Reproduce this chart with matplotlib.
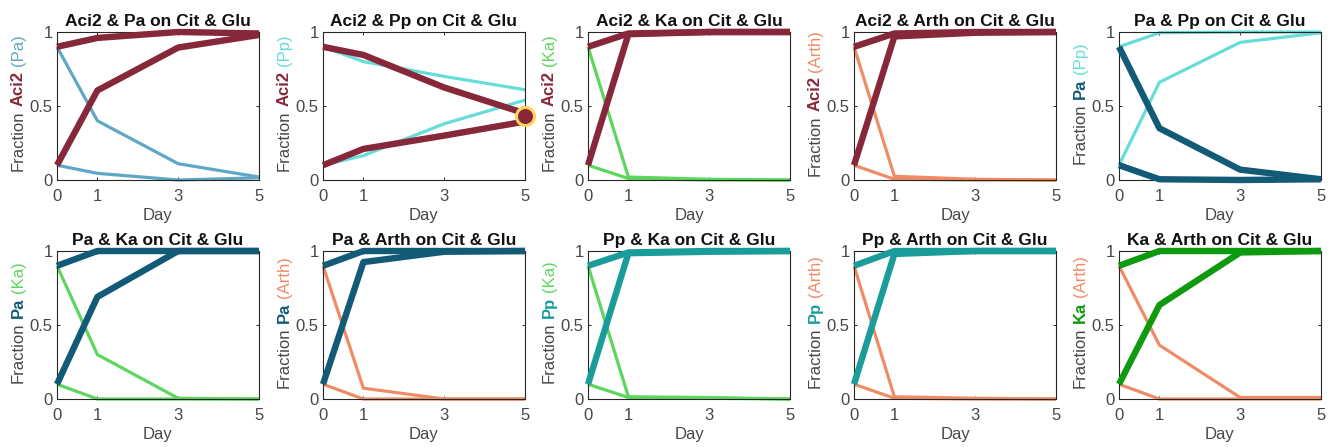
import matplotlib
matplotlib.use("Agg")
import matplotlib.pyplot as plt

# ---------------- data ----------------
days = [0, 1, 3, 5]
first_species = ["Aci2", "Aci2", "Aci2", "Aci2", "Pa", "Pa", "Pa", "Pp", "Pp", "Ka"]
second_species = ["Pa", "Pp", "Ka", "Arth", "Pp", "Ka", "Arth", "Ka", "Arth", "Arth"]
medium = "Cit & Glu"

# thick line: fraction of first species, starting at 0.9
first_from_high = [
    [0.90, 0.96, 1.00, 0.99],
    [0.90, 0.845, 0.625, 0.45],
    [0.90, 0.99, 1.00, 1.00],
    [0.90, 0.99, 1.00, 1.00],
    [0.90, 0.35, 0.07, 0.005],
    [0.90, 1.00, 1.00, 1.00],
    [0.90, 1.00, 1.00, 1.00],
    [0.90, 0.99, 1.00, 1.00],
    [0.90, 1.00, 1.00, 1.00],
    [0.90, 1.00, 1.00, 1.00],
]
# thick line: fraction of first species, starting at 0.1
first_from_low = [
    [0.10, 0.605, 0.895, 0.98],
    [0.10, 0.21, 0.30, 0.395],
    [0.10, 0.985, 1.00, 1.00],
    [0.10, 0.97, 0.995, 1.00],
    [0.10, 0.005, 0.00, 0.005],
    [0.10, 0.69, 1.00, 1.00],
    [0.10, 0.925, 0.995, 1.00],
    [0.10, 0.985, 0.995, 1.00],
    [0.10, 0.98, 1.00, 1.00],
    [0.10, 0.635, 0.99, 1.00],
]
# thin line: fraction of second species, starting at 0.9
second_from_high = [
    [0.90, 0.40, 0.11, 0.02],
    [0.90, 0.80, 0.70, 0.61],
    [0.90, 0.02, 0.005, 0.00],
    [0.90, 0.025, 0.005, 0.00],
    [0.90, 0.995, 1.00, 1.00],
    [0.90, 0.30, 0.005, 0.00],
    [0.90, 0.073, 0.00, 0.00],
    [0.90, 0.015, 0.01, 0.00],
    [0.90, 0.015, 0.005, 0.00],
    [0.90, 0.364, 0.01, 0.01],
]
# thin line: fraction of second species, starting at 0.1
second_from_low = [
    [0.10, 0.045, 0.00, 0.015],
    [0.10, 0.165, 0.38, 0.54],
    [0.10, 0.01, 0.00, 0.00],
    [0.10, 0.005, 0.00, 0.00],
    [0.10, 0.66, 0.93, 0.995],
    [0.10, 0.00, 0.00, 0.00],
    [0.10, 0.00, 0.00, 0.00],
    [0.10, 0.01, 0.005, 0.00],
    [0.10, 0.005, 0.00, 0.00],
    [0.10, 0.00, 0.00, 0.00],
]
highlight_panel = 1
highlight_point = (5, 0.433)

x_ticks = [0, 1, 3, 5]
y_ticks = [0, 0.5, 1]
y_ticklabels = ["0", "0.5", "1"]

# ---------------- style ----------------
dark = {"Aci2": "#86283A", "Pa": "#135A76", "Pp": "#1A9C9A", "Ka": "#0E9A0E"}
light = {"Pa": "#5EA8C6", "Pp": "#66DDD9", "Ka": "#5CD65C", "Arth": "#EE8C66"}
FONT = "Liberation Sans"
FS = 12
TXT = "#474747"
AX = "#262626"

W, H = 1335, 447
fig = plt.figure(figsize=(W / 100, H / 100), dpi=100)
renderer = fig.canvas.get_renderer()

lefts = [57, 323, 588, 854, 1119]
aw, ah = 202, 148
tops = [32, 251]


def text_width(s, weight):
    t = fig.text(0, 0, s, fontsize=FS, fontweight=weight, family=FONT)
    w = t.get_window_extent(renderer).width
    t.remove()
    return w


for i in range(10):
    r, c = divmod(i, 5)
    lp = lefts[c]
    tp = tops[r]
    ax = fig.add_axes([lp / W, (H - tp - ah) / H, aw / W, ah / H])
    a, b = first_species[i], second_species[i]
    ax.plot(days, second_from_high[i], color=light[b], lw=2.3, clip_on=False,
            solid_capstyle="butt", zorder=2)
    ax.plot(days, second_from_low[i], color=light[b], lw=2.3, clip_on=False,
            solid_capstyle="butt", zorder=2)
    ax.plot(days, first_from_high[i], color=dark[a], lw=4.6, clip_on=False,
            solid_capstyle="butt", zorder=3)
    ax.plot(days, first_from_low[i], color=dark[a], lw=4.6, clip_on=False,
            solid_capstyle="butt", zorder=3)
    if i == highlight_panel:
        ax.plot([highlight_point[0]], [highlight_point[1]], "o", ms=13,
                mfc=dark[a], mec="#FFD45E", mew=2.2, clip_on=False, zorder=5)

    ax.set_xlim(0, 5)
    ax.set_ylim(0, 1)
    ax.set_xticks(x_ticks)
    ax.set_xticklabels([str(v) for v in x_ticks])
    ax.set_yticks(y_ticks)
    ax.set_yticklabels(y_ticklabels)
    ax.tick_params(direction="in", length=2.5, width=0.7, colors=AX,
                   labelcolor=TXT, labelsize=FS, top=True, right=True)
    ax.tick_params(axis="x", pad=6.5)
    ax.tick_params(axis="y", pad=3)
    for lab in ax.get_xticklabels() + ax.get_yticklabels():
        lab.set_fontfamily(FONT)
    for s in ax.spines.values():
        s.set_color(AX)
        s.set_linewidth(0.8)
    ax.set_xlabel("Day", fontsize=FS, color=TXT, family=FONT, labelpad=3)
    ax.set_title(f"{a} & {b} on {medium}", fontsize=12.5, fontweight="bold",
                 family=FONT, color="#111111", pad=4)

    # multi-coloured y label
    pieces = [("Fraction", "normal", TXT), (a, "bold", dark[a]), (f"({b})", "normal", light[b])]
    widths = [text_width(p[0], p[1]) for p in pieces]
    sp = 0.278 * FS * 100 / 72
    total = sum(widths) + 2 * sp
    xb = lp - 34
    yc = H - (tp + ah / 2) + 3
    y = yc - total / 2
    for (s, wt, col), wdt in zip(pieces, widths):
        fig.text(xb / W, y / H, s, rotation=90, rotation_mode="anchor",
                 ha="left", va="baseline", fontsize=FS, fontweight=wt,
                 color=col, family=FONT)
        y += wdt + sp

fig.savefig("out.png", dpi=100)
